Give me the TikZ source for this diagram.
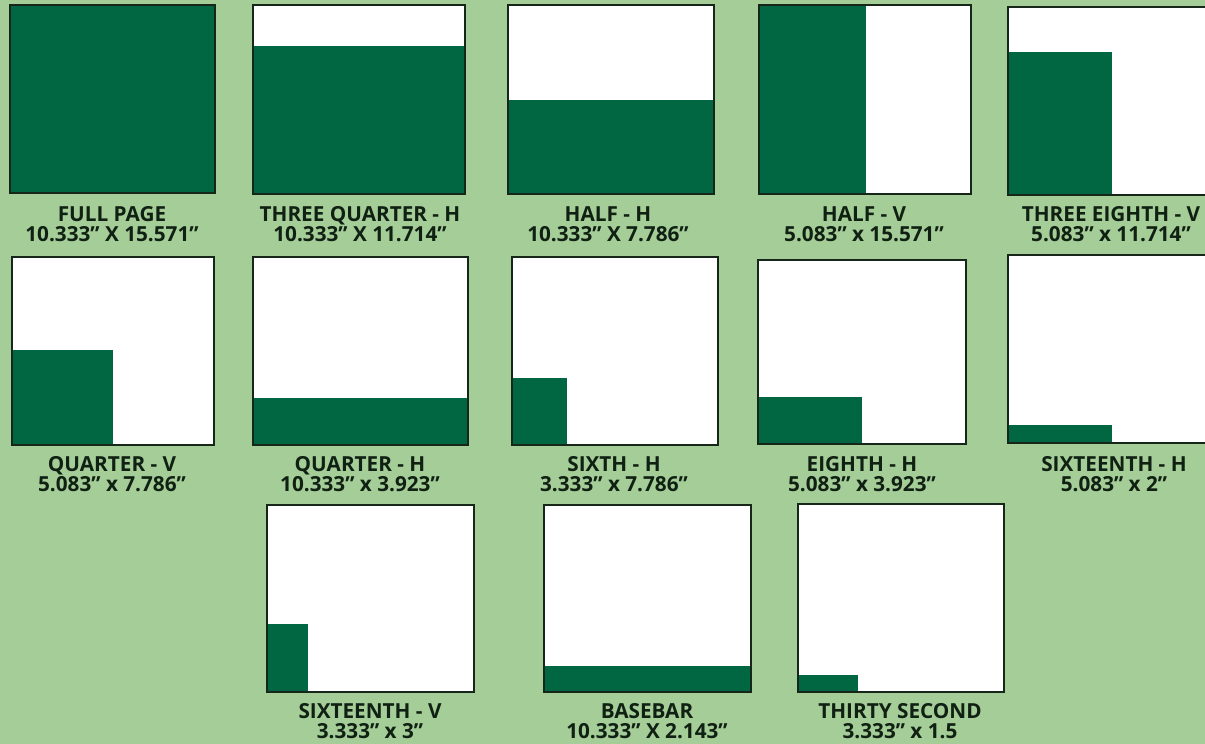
\documentclass[tikz,border=0pt]{standalone}
\usepackage{fontspec}
\setmainfont{Open Sans}
\definecolor{pagebg}{RGB}{164, 205, 152}
\definecolor{adgreen}{RGB}{0, 103, 66}
\definecolor{framedark}{RGB}{22, 38, 24}
\definecolor{labelink}{RGB}{16, 32, 18}
\usetikzlibrary{positioning}

\begin{document}
\begin{tikzpicture}[x=0.02cm, y=-0.02cm,
  frame/.style={draw=framedark, line width=1.1pt},
  lbl/.style={font=\bfseries\fontsize{11.8}{11.3}\selectfont, text=labelink, align=center, inner sep=0pt}]
  % page
  \fill[pagebg] (0,0) rectangle (1205,744);
  \clip (0,0) rectangle (1205,744);

  % Row 1: full page
  \fill[adgreen] (10,5) rectangle (215,193);
  \draw[frame] (10,5) rectangle (215,193);
  \node[lbl] (fullpage) at (112,224) {FULL PAGE\\10.333” X 15.571”};

  % Row 1: three quarter - h
  \fill[white] (253,5) rectangle (465,194);
  \fill[adgreen] (253,194) rectangle (465,46);
  \draw[frame] (253,5) rectangle (465,194);
  \node[lbl] (threequarterh) at (360,224) {THREE QUARTER - H\\10.333” X 11.714”};

  % Row 1: half - h
  \fill[white] (508,5) rectangle (714,194);
  \fill[adgreen] (508,194) rectangle (714,100);
  \draw[frame] (508,5) rectangle (714,194);
  \node[lbl] (halfh) at (608,224) {HALF - H\\10.333” X 7.786”};

  % Row 1: half - v
  \fill[white] (759,5) rectangle (971,194);
  \fill[adgreen] (759,194) rectangle (866,5);
  \draw[frame] (759,5) rectangle (971,194);
  \node[lbl] (halfv) at (864,224) {HALF - V\\5.083” x 15.571”};

  % Row 1: three eighth - v (runs off the page)
  \fill[white] (1008,7) rectangle (1220,195);
  \fill[adgreen] (1008,195) rectangle (1112,52);
  \draw[frame] (1008,7) rectangle (1220,195);
  \node[lbl] (threeeighthv) at (1111,224) {THREE EIGHTH - V\\5.083” x 11.714”};

  % Row 2: quarter - v
  \fill[white] (12,257) rectangle (214,445);
  \fill[adgreen] (12,445) rectangle (113,350);
  \draw[frame] (12,257) rectangle (214,445);
  \node[lbl] (quarterv) at (112,474) {QUARTER - V\\5.083” x 7.786”};

  % Row 2: quarter - h
  \fill[white] (253,257) rectangle (468,445);
  \fill[adgreen] (253,445) rectangle (468,398);
  \draw[frame] (253,257) rectangle (468,445);
  \node[lbl] (quarterh) at (360,474) {QUARTER - H\\10.333” x 3.923”};

  % Row 2: sixth - h
  \fill[white] (512,257) rectangle (718,445);
  \fill[adgreen] (512,445) rectangle (567,378);
  \draw[frame] (512,257) rectangle (718,445);
  \node[lbl] (sixthh) at (614,474) {SIXTH - H\\3.333” x 7.786”};

  % Row 2: eighth - h
  \fill[white] (758,260) rectangle (966,444);
  \fill[adgreen] (758,444) rectangle (862,397);
  \draw[frame] (758,260) rectangle (966,444);
  \node[lbl] (eighthh) at (862,474) {EIGHTH - H\\5.083” x 3.923”};

  % Row 2: sixteenth - h (runs off the page)
  \fill[white] (1008,255) rectangle (1220,443);
  \fill[adgreen] (1008,443) rectangle (1112,425);
  \draw[frame] (1008,255) rectangle (1220,443);
  \node[lbl] (sixteenthh) at (1114,474) {SIXTEENTH - H\\5.083” x 2”};

  % Row 3: sixteenth - v
  \fill[white] (267,505) rectangle (474,692);
  \fill[adgreen] (267,692) rectangle (308,624);
  \draw[frame] (267,505) rectangle (474,692);
  \node[lbl] (sixteenthv) at (370,721.5) {SIXTEENTH - V\\3.333” x 3”};

  % Row 3: basebar
  \fill[white] (544,505) rectangle (751,692);
  \fill[adgreen] (544,692) rectangle (751,666);
  \draw[frame] (544,505) rectangle (751,692);
  \node[lbl] (basebar) at (647,721.5) {BASEBAR\\10.333” X 2.143”};

  % Row 3: thirty second
  \fill[white] (798,504) rectangle (1004,692);
  \fill[adgreen] (798,692) rectangle (858,675);
  \draw[frame] (798,504) rectangle (1004,692);
  \node[lbl] (thirtysecond) at (900,721.5) {THIRTY SECOND\\3.333” x 1.5};
\end{tikzpicture}
\end{document}
